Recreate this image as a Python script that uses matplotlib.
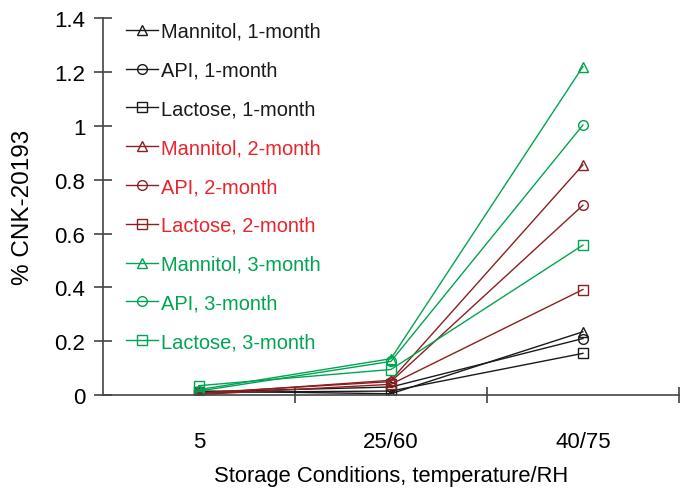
import matplotlib
matplotlib.use('Agg')
import matplotlib.pyplot as plt
from matplotlib.ticker import FixedLocator, NullFormatter

# ── Data ─────────────────────────────────────────────────────────────────────
conditions = ['5', '25/60', '40/75']

mannitol_1m = [0.015, 0.005, 0.235]
api_1m      = [0.012, 0.030, 0.210]
lactose_1m  = [0.010, 0.015, 0.155]
mannitol_2m = [0.005, 0.055, 0.855]
api_2m      = [0.008, 0.050, 0.705]
lactose_2m  = [0.002, 0.040, 0.392]
mannitol_3m = [0.020, 0.135, 1.220]
api_3m      = [0.015, 0.125, 1.003]
lactose_3m  = [0.035, 0.095, 0.557]

# ── Colours ──────────────────────────────────────────────────────────────────
BLACK     = '#1a1a1a'
DARKRED   = '#8b2020'
RED_TEXT  = '#e8242c'
GREEN     = '#00a551'
AXIS      = '#444444'

series = [
    ('Mannitol, 1-month', mannitol_1m, '^', BLACK,   BLACK),
    ('API, 1-month',      api_1m,      'o', BLACK,   BLACK),
    ('Lactose, 1-month',  lactose_1m,  's', BLACK,   BLACK),
    ('Mannitol, 2-month', mannitol_2m, '^', DARKRED, RED_TEXT),
    ('API, 2-month',      api_2m,      'o', DARKRED, RED_TEXT),
    ('Lactose, 2-month',  lactose_2m,  's', DARKRED, RED_TEXT),
    ('Mannitol, 3-month', mannitol_3m, '^', GREEN,   GREEN),
    ('API, 3-month',      api_3m,      'o', GREEN,   GREEN),
    ('Lactose, 3-month',  lactose_3m,  's', GREEN,   GREEN),
]

plt.rcParams['font.family'] = ['Liberation Sans', 'DejaVu Sans']

fig = plt.figure(figsize=(6.81, 4.89), dpi=100)
ax = fig.add_axes([0.151, 0.19, 0.846, 0.771])

xpos = [i + 0.5 for i in range(len(conditions))]
for label, vals, mk, col, _ in series:
    ax.plot(xpos, vals, color=col, lw=1.0, marker=mk, markersize=7,
            markerfacecolor='none', markeredgecolor=col, markeredgewidth=1.0,
            label=label)

ax.set_xlim(0, 3)
ax.set_ylim(0, 1.4)
ax.set_yticks([0, 0.2, 0.4, 0.6, 0.8, 1.0, 1.2, 1.4])
ax.set_yticklabels(['0', '0.2', '0.4', '0.6', '0.8', '1', '1.2', '1.4'])

# category labels on minor ticks, separators on major ticks
ax.xaxis.set_major_locator(FixedLocator([1, 2, 3]))
ax.xaxis.set_major_formatter(NullFormatter())
ax.xaxis.set_minor_locator(FixedLocator(xpos))
ax.set_xticklabels(conditions, minor=True)
ax.tick_params(axis='x', which='minor', length=0, pad=26, labelsize=16)
ax.tick_params(axis='x', which='major', direction='inout', length=12,
               width=1.2, color=AXIS)
ax.tick_params(axis='y', direction='inout', length=13, width=1.2,
               color=AXIS, labelsize=16, pad=6)

for s in ['top', 'right']:
    ax.spines[s].set_visible(False)
for s in ['left', 'bottom']:
    ax.spines[s].set_color(AXIS)
    ax.spines[s].set_linewidth(1.2)

ax.set_ylabel('% CNK-20193', fontsize=17.5, labelpad=15)
ax.set_xlabel('Storage Conditions, temperature/RH', fontsize=15.8, labelpad=9)

leg = ax.legend(loc='upper left', bbox_to_anchor=(0.04, 0.99), frameon=False,
                fontsize=14.4, handlelength=1.6, handletextpad=0.15,
                labelspacing=0.99, borderaxespad=0, borderpad=0)
for txt, (_, _, _, _, tcol) in zip(leg.get_texts(), series):
    txt.set_color(tcol)

fig.savefig('out.png', dpi=100)
plt.close(fig)
